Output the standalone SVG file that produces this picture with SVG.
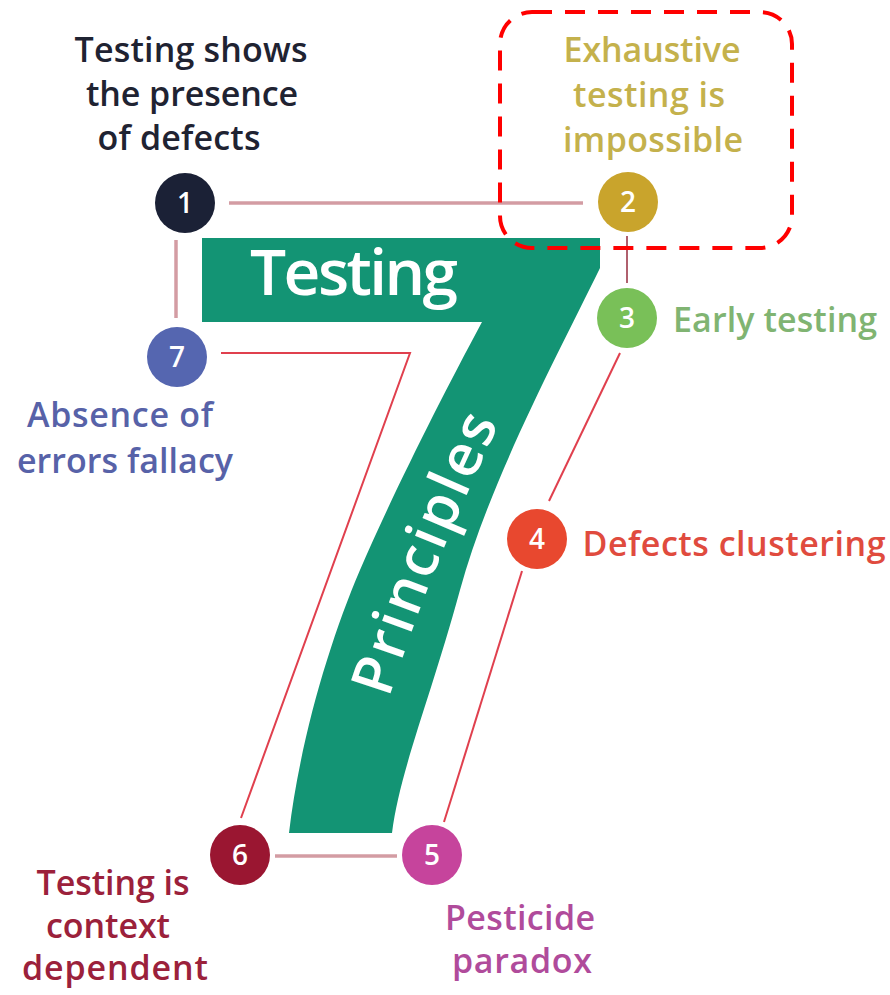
<svg xmlns="http://www.w3.org/2000/svg" width="890" height="995" viewBox="0 0 890 995">
  <style>
    .lbl { font-family: "Open Sans", "Noto Sans", "Liberation Sans", sans-serif; font-weight: 600; font-size: 34px; text-anchor: middle; }
    .num { font-family: "Open Sans", "Noto Sans", "Liberation Sans", sans-serif; font-weight: 600; font-size: 28px; fill: #ffffff; text-anchor: middle; }
    .big { font-family: "Open Sans", "Noto Sans", "Liberation Sans", sans-serif; font-weight: 600; fill: #ffffff; }
    .soft { stroke: #d39ca3; stroke-width: 3.5; fill: none; }
    .thin { stroke: #e0404e; stroke-width: 2; fill: none; }
  </style>
  <defs>
    <path id="stemBase" d="M 360,800 C 390,680 440,540 530,360"/>
  </defs>
  <rect width="890" height="995" fill="#ffffff"/>

  <!-- the big seven -->
  <g id="seven">
    <path d="M 202,238 L 600,238 L 600,268 C 560,350 490,480 460,590 C 430,700 400,770 392,833 L 289,833 C 300,740 330,640 360,570 C 390,500 440,400 482,322 L 202,322 Z" fill="#139474"/>
    <text class="big" x="250" y="295" font-size="64" textLength="208">Testing</text>
    <text class="big" font-size="58"><textPath href="#stemBase" startOffset="106" textLength="296">Principles</textPath></text>
  </g>

  <!-- connectors -->
  <g id="connectors">
    <line class="soft" x1="229" y1="203" x2="583" y2="203"/>
    <line class="soft" x1="176" y1="240" x2="176" y2="318"/>
    <line x1="627" y1="236" x2="627" y2="283" stroke="#b0606e" stroke-width="2"/>
    <line class="thin" x1="620" y1="353" x2="549" y2="501" stroke-width="1.6"/>
    <line class="thin" x1="522" y1="571" x2="444" y2="822" stroke-width="1.6"/>
    <polyline class="thin" points="221,353 410,353 241,818"/>
    <line class="soft" x1="275" y1="856" x2="397" y2="856"/>
  </g>

  <g id="p1">
    <circle cx="185" cy="203" r="30" fill="#1b2136"/>
    <text class="num" x="185" y="213">1</text>
    <text class="lbl" fill="#1f2332"><tspan x="191" y="62" textLength="233">Testing shows</tspan><tspan x="192" y="106" textLength="212">the presence</tspan><tspan x="179" y="150" textLength="163">of defects</tspan></text>
  </g>
  <g id="p2">
    <circle cx="628" cy="202" r="30" fill="#c9a42c"/>
    <text class="num" x="628" y="212">2</text>
    <text class="lbl" fill="#c4b14c"><tspan x="652" y="62" textLength="177">Exhaustive</tspan><tspan x="649" y="107" textLength="152">testing is</tspan><tspan x="653" y="152" textLength="180">impossible</tspan></text>
  </g>
  <g id="p3">
    <circle cx="627" cy="318" r="30" fill="#79c058"/>
    <text class="num" x="627" y="328">3</text>
    <text class="lbl" fill="#80b472" x="775" y="332" textLength="204">Early testing</text>
  </g>
  <g id="p4">
    <circle cx="537" cy="539" r="30" fill="#e8482f"/>
    <text class="num" x="537" y="549">4</text>
    <text class="lbl" fill="#e04b3e" x="734" y="556" textLength="303">Defects clustering</text>
  </g>
  <g id="p5">
    <circle cx="432" cy="855" r="30" fill="#c6449c"/>
    <text class="num" x="432" y="865">5</text>
    <text class="lbl" fill="#b04b9b"><tspan x="520" y="930" textLength="150">Pesticide</tspan><tspan x="522" y="973" textLength="140">paradox</tspan></text>
  </g>
  <g id="p6">
    <circle cx="240" cy="855" r="30" fill="#9a1631"/>
    <text class="num" x="240" y="865">6</text>
    <text class="lbl" fill="#9b213b"><tspan x="113" y="895" textLength="153">Testing is</tspan><tspan x="108" y="938" textLength="124">context</tspan><tspan x="115" y="980" textLength="186">dependent</tspan></text>
  </g>
  <g id="p7">
    <circle cx="177" cy="357" r="30" fill="#5566b0"/>
    <text class="num" x="177" y="367">7</text>
    <text class="lbl" fill="#5762a8"><tspan x="120" y="427" textLength="186">Absence of</tspan><tspan x="125" y="473" textLength="216">errors fallacy</tspan></text>
  </g>

  <!-- highlight frame around principle 2 -->
  <rect x="500" y="12" width="292" height="236" rx="32" fill="none" stroke="#ff0000" stroke-width="4" stroke-dasharray="20 13"/>
</svg>
